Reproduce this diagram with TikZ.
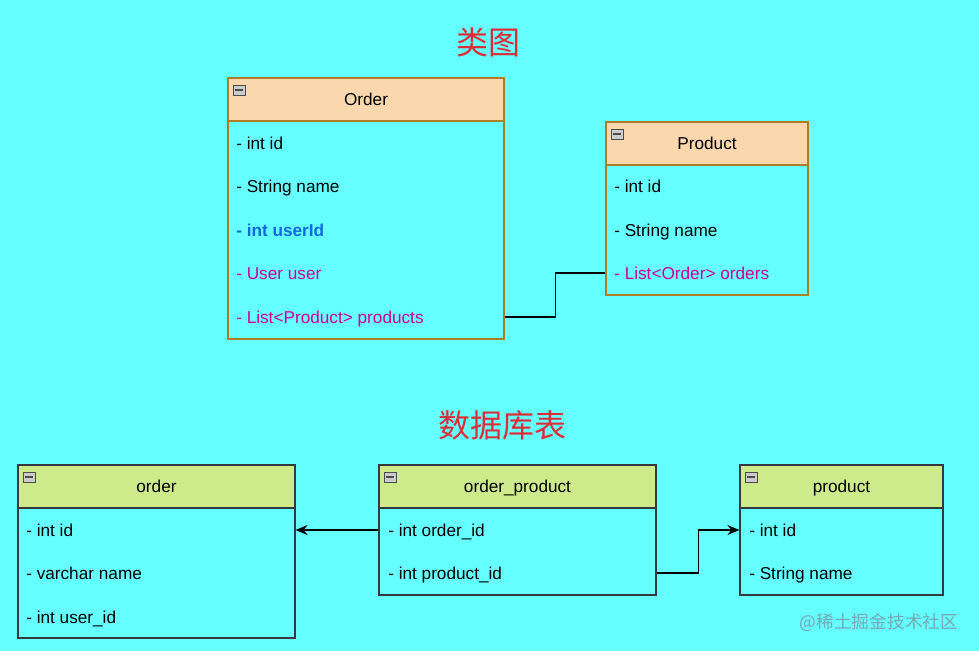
\documentclass[tikz,border=0pt]{standalone}
\usepackage{fontspec}
\setmainfont{Liberation Sans}
\newfontfamily\cjk{Noto Sans CJK SC}
\usetikzlibrary{arrows.meta,positioning,calc}

\definecolor{bgcyan}{RGB}{102,255,255}
\definecolor{ochead}{RGB}{250,215,172}
\definecolor{ocline}{RGB}{176,124,38}
\definecolor{grhead}{RGB}{205,235,139}
\definecolor{grline}{RGB}{54,57,61}
\definecolor{titlered}{RGB}{218,45,55}
\definecolor{keyblue}{RGB}{16,104,224}
\definecolor{refpink}{RGB}{204,0,153}

\begin{document}
\begin{tikzpicture}[
  x=0.75pt, y=-0.75pt,
  >={Stealth[length=9pt,width=7.5pt]},
  every node/.style={font=\fontsize{12.9}{15}\selectfont},
  head/.style={draw, line width=0.9pt, minimum height=32.25pt, inner sep=0pt,
               text height=10.6pt, text depth=1pt},
  body/.style={draw, line width=0.9pt, inner sep=0pt},
  uml/.style={fill=ochead, draw=ocline},
  tbl/.style={fill=grhead, draw=grline},
  row/.style={anchor=west, inner sep=0pt, text height=10.6pt, text depth=1pt},
  fold/.style={draw=gray!60!black, fill=gray!40, minimum width=9pt,
               minimum height=8pt, inner sep=0pt,
               path picture={\draw[line width=1.4pt]
                 ([xshift=1.8pt]path picture bounding box.west) --
                 ([xshift=-1.8pt]path picture bounding box.east);}},
  title/.style={font=\cjk\fontsize{24}{28}\selectfont, text=titlered},
  link/.style={line width=1.1pt},
]
  \useasboundingbox[fill=bgcyan] (0,0) rectangle (979,651);

  \node[title] (t1) at (488,42) {类图};
  \node[title] (t2) at (502,425) {数据库表};

  % class diagram
  \node[head, uml, minimum width=207pt] (ohead) at (366,99.5) {Order};
  \node[body, draw=ocline, minimum width=207pt, minimum height=163.5pt] (obody) at (366,230) {};
  \node[fold] (ofold) at ($(ohead.north west)+(11.5,13)$) {};
  \node[row] (o1) at (236,143) {- int id};
  \node[row] (o2) at (236,186) {- String name};
  \node[row, text=keyblue, font=\fontsize{12.9}{15}\selectfont\bfseries] (o3) at (236,230) {- int userId};
  \node[row, text=refpink] (o4) at (236,273) {- User user};
  \node[row, text=refpink] (o5) at (236,317) {- List<Product> products};

  \node[head, uml, minimum width=151.5pt] (phead) at (707,143.5) {Product};
  \node[body, draw=ocline, minimum width=151.5pt, minimum height=97.5pt] (pbody) at (707,230) {};
  \node[fold] (pfold) at ($(phead.north west)+(11.5,13)$) {};
  \node[row] (p1) at (614,186) {- int id};
  \node[row] (p2) at (614,230) {- String name};
  \node[row, text=refpink] (p3) at (614,273) {- List<Order> orders};

  \draw[link] (obody.east |- o5) -- ++(51,0) |- (pbody.west |- p3);

  % database tables
  \node[head, tbl, minimum width=207.75pt] (thead) at (156.5,486.5) {order};
  \node[body, draw=grline, minimum width=207.75pt, minimum height=97.5pt] (tbody) at (156.5,573) {};
  \node[fold] (tfold) at ($(thead.north west)+(11.5,13)$) {};
  \node[row] (t1r) at (26,530) {- int id};
  \node[row] (t2r) at (26,573) {- varchar name};
  \node[row] (t3r) at (26,617) {- int user\_id};

  \node[head, tbl, minimum width=207.75pt] (ophead) at (517.5,486.5) {order\_product};
  \node[body, draw=grline, minimum width=207.75pt, minimum height=65.25pt] (opbody) at (517.5,551.5) {};
  \node[fold] (opfold) at ($(ophead.north west)+(11.5,13)$) {};
  \node[row] (op1) at (388,530) {- int order\_id};
  \node[row] (op2) at (388,573) {- int product\_id};

  \node[head, tbl, minimum width=152.25pt] (pdhead) at (841.5,486.5) {product};
  \node[body, draw=grline, minimum width=152.25pt, minimum height=65.25pt] (pdbody) at (841.5,551.5) {};
  \node[fold] (pdfold) at ($(pdhead.north west)+(11.5,13)$) {};
  \node[row] (pd1) at (749,530) {- int id};
  \node[row] (pd2) at (749,573) {- String name};

  \draw[link, ->] (opbody.west |- op1) -- (tbody.east |- op1);
  \draw[link, ->] (opbody.east |- op2) -- ++(42,0) |- (pdbody.west |- pd1);

  \node[font=\cjk\fontsize{13.3}{15}\selectfont, text=gray!70!cyan!90!black, opacity=0.8] (wm) at (879,622) {@稀土掘金技术社区};
\end{tikzpicture}
\end{document}
